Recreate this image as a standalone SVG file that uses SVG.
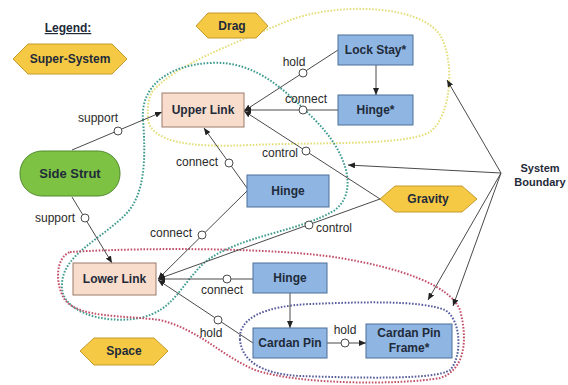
<svg xmlns="http://www.w3.org/2000/svg" width="568" height="385" viewBox="0 0 568 385">
<defs>
<marker id="ah" markerWidth="7" markerHeight="6" refX="7" refY="3" orient="auto" markerUnits="userSpaceOnUse"><path d="M0,0 L7,3 L0,6 z" fill="#222"/></marker>
<style>
.bt{font-family:"Liberation Sans",Arial,sans-serif;font-weight:bold;font-size:12px;fill:#1f2b3a;text-anchor:middle}
.lb{font-family:"Liberation Sans",Arial,sans-serif;font-size:12px;fill:#2a2a2a;text-anchor:middle}
.hex{fill:#f6c944;stroke:#c49a2c;stroke-width:1}
.blue{fill:#8fb6e3;stroke:#4c6f98;stroke-width:1}
.link{fill:#f9ddcc;stroke:#9a7a6a;stroke-width:1}
.ar{stroke:#4a4a4a;stroke-width:1;fill:none;marker-end:url(#ah)}
.o{fill:#fff;stroke:#4a4a4a;stroke-width:1}
.loop{fill:none;stroke-width:2;stroke-dasharray:1.6 1.6}
</style>
</defs>
<rect width="568" height="385" fill="#fff"/>

<g id="loops">
<path class="loop" stroke="#e4de7c" d="M152,92 C175,65 230,45 290,20 C340,2 420,5 440,35 C455,60 452,115 430,132 C405,146 320,142 250,145 C190,148 152,142 148,120 C147,106 149,97 152,92 Z"/>
<path class="loop" stroke="#3f9c8e" d="M143,120 C140,85 170,65 210,63 C255,60 285,90 315,120 C345,150 360,190 335,210 C300,232 240,235 205,262 C180,285 175,310 140,318 C100,325 60,310 62,285 C62,255 100,240 125,215 C145,195 146,160 143,120 Z"/>
<path class="loop" stroke="#c2506a" d="M70,252 C150,247 280,248 340,258 C400,268 450,285 460,310 C468,340 465,370 440,378 C400,385 300,385 255,370 C220,355 200,330 160,320 C120,315 80,318 65,300 C55,285 55,258 70,252 Z"/>
<path class="loop" stroke="#565c9c" d="M240,340 C238,318 265,306 310,304 C360,302 420,300 445,310 C462,320 462,358 450,370 C435,380 360,378 300,376 C260,374 242,360 240,340 Z"/>
</g>

<g id="connectors">
<path class="ar" d="M72,150 L162,112"/><circle class="o" cx="118" cy="131" r="4"/>
<text class="lb" x="98" y="122">support</text>
<path class="ar" d="M72,197 L112,263"/><circle class="o" cx="85" cy="218" r="4"/>
<text class="lb" x="55" y="222">support</text>
<path class="ar" d="M247,188 L204,128"/><circle class="o" cx="229" cy="163" r="4"/>
<text class="lb" x="197" y="166">connect</text>
<path class="ar" d="M247,191 L158,279"/><circle class="o" cx="202" cy="235" r="4"/>
<text class="lb" x="171" y="237">connect</text>
<path class="ar" d="M380,199 L158,279"/><circle class="o" cx="309" cy="225" r="4"/>
<text class="lb" x="334" y="232">control</text>
<path class="ar" d="M380,199 L244,111"/><circle class="o" cx="306" cy="151" r="4"/>
<text class="lb" x="280" y="157">control</text>
<path class="ar" d="M338,50 L244,111"/><circle class="o" cx="303" cy="73" r="4"/>
<text class="lb" x="294" y="66">hold</text>
<path class="ar" d="M338,110 L244,110"/><circle class="o" cx="303" cy="110" r="4"/>
<text class="lb" x="306" y="103">connect</text>
<path class="ar" d="M376,65 L376,95"/>
<path class="ar" d="M253,279 L158,279"/><circle class="o" cx="227" cy="279" r="4"/>
<text class="lb" x="222" y="294">connect</text>
<path class="ar" d="M253,343 L158,280"/><circle class="o" cx="218" cy="320" r="4"/>
<text class="lb" x="211" y="337">hold</text>
<path class="ar" d="M290,293 L290,328"/>
<path class="ar" d="M327,343 L366,343"/><circle class="o" cx="345" cy="343" r="4"/>
<text class="lb" x="345" y="334">hold</text>
<path class="ar" d="M501,173 L447,80"/>
<path class="ar" d="M501,173 L348,165"/>
<path class="ar" d="M501,173 L428,300"/>
<path class="ar" d="M501,173 L453,306"/>
</g>

<g id="legend">
<text class="bt" x="68" y="32" text-decoration="underline">Legend:</text>
</g>
<g id="super-system">
<polygon class="hex" points="13,59 28,44 112,44 127,59 112,74 28,74"/>
<text class="bt" x="70" y="63">Super-System</text>
</g>
<g id="drag">
<polygon class="hex" points="196,26 208,13 256,13 268,26 256,38 208,38"/>
<text class="bt" x="232" y="30">Drag</text>
</g>
<g id="lock-stay">
<rect class="blue" x="338" y="35" width="75" height="30"/>
<text class="bt" x="375.5" y="54">Lock Stay*</text>
</g>
<g id="hinge-star">
<rect class="blue" x="338" y="95" width="75" height="30"/>
<text class="bt" x="375.5" y="114">Hinge*</text>
</g>
<g id="upper-link">
<rect class="link" x="162" y="93" width="82" height="34"/>
<text class="bt" x="203" y="114">Upper Link</text>
</g>
<g id="side-strut">
<rect x="20" y="151" width="100" height="45" rx="22" fill="#7dc243" stroke="#4e8a2c"/>
<text class="bt" x="70" y="178" style="font-size:13px">Side Strut</text>
</g>
<g id="hinge-mid">
<rect class="blue" x="247" y="175" width="82" height="32"/>
<text class="bt" x="288" y="195">Hinge</text>
</g>
<g id="gravity">
<polygon class="hex" points="380,199 395,186 462,186 477,199 462,212 395,212"/>
<text class="bt" x="428" y="203">Gravity</text>
</g>
<g id="lower-link">
<rect class="link" x="73" y="263" width="83" height="32"/>
<text class="bt" x="114.5" y="283">Lower Link</text>
</g>
<g id="hinge-low">
<rect class="blue" x="253" y="263" width="74" height="30"/>
<text class="bt" x="290" y="282">Hinge</text>
</g>
<g id="cardan-pin">
<rect class="blue" x="253" y="328" width="74" height="30"/>
<text class="bt" x="290" y="347">Cardan Pin</text>
</g>
<g id="cardan-pin-frame">
<rect class="blue" x="366" y="324" width="86" height="34"/>
<text class="bt" x="409" y="337">Cardan Pin</text>
<text class="bt" x="409" y="352">Frame*</text>
</g>
<g id="space">
<polygon class="hex" points="80,351 94,338 154,338 168,351 154,365 94,365"/>
<text class="bt" x="124" y="355">Space</text>
</g>
<g id="system-boundary">
<text class="bt" x="540" y="172" style="font-size:11px">System</text>
<text class="bt" x="540" y="186" style="font-size:11px">Boundary</text>
</g>
</svg>
